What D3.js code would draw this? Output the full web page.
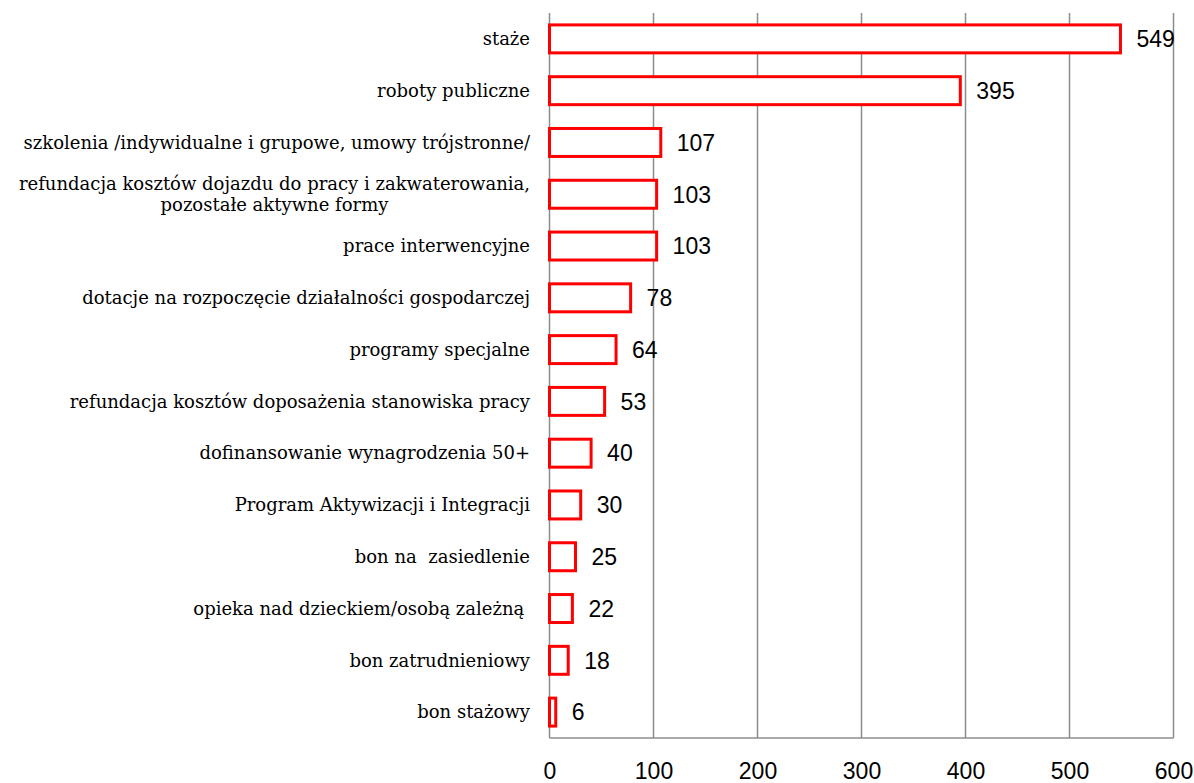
<!DOCTYPE html>
<html>
<head>
<meta charset="utf-8">
<script src="https://cdn.jsdelivr.net/npm/d3@7"></script>
<style>
  body { margin: 0; background: #fff; }
  text { white-space: pre; }
</style>
</head>
<body>
<script>
const categories = [
    ['staże'],
    ['roboty publiczne'],
    ['szkolenia /indywidualne i grupowe, umowy trójstronne/'],
    ['refundacja kosztów dojazdu do pracy i zakwaterowania,', 'pozostałe aktywne formy'],
    ['prace interwencyjne'],
    ['dotacje na rozpoczęcie działalności gospodarczej'],
    ['programy specjalne'],
    ['refundacja kosztów doposażenia stanowiska pracy'],
    ['dofinansowanie wynagrodzenia 50+'],
    ['Program Aktywizacji i Integracji'],
    ['bon na  zasiedlenie'],
    ['opieka nad dzieckiem/osobą zależną '],
    ['bon zatrudnieniowy'],
    ['bon stażowy']
];
const values = [549, 395, 107, 103, 103, 78, 64, 53, 40, 30, 25, 22, 18, 6];
const xTicks = [0, 100, 200, 300, 400, 500, 600];

const w = 1194;
const h = 783;
const pLeft = 549.5, pRight = 1173.5, pTop = 13, pBottom = 738;

const keys = categories.map((c, i) => i);
const xScale = d3.scaleLinear().domain([0, 600]).range([pLeft, pRight]);
const yScale = d3.scaleBand().domain(keys).range([pTop, pBottom])
    .paddingInner(0.46).paddingOuter(0.23);

const svg = d3.select('body')
    .append('svg')
    .attr('width', w)
    .attr('height', h);

// gridlines
svg.append('g')
    .selectAll('line')
    .data(xTicks)
    .enter()
    .append('line')
    .attr('x1', d => xScale(d))
    .attr('x2', d => xScale(d))
    .attr('y1', pTop)
    .attr('y2', pBottom)
    .attr('stroke', '#8c8c8c')
    .attr('stroke-width', 1.5);

svg.append('line')
    .attr('x1', xScale(0)).attr('x2', xScale(600))
    .attr('y1', pBottom).attr('y2', pBottom)
    .attr('stroke', '#8c8c8c')
    .attr('stroke-width', 1.5);

// bars
svg.selectAll('rect.bar')
    .data(values)
    .enter()
    .append('rect')
    .attr('class', 'bar')
    .attr('x', xScale(0))
    .attr('y', (d, i) => yScale(i))
    .attr('width', d => xScale(d) - xScale(0))
    .attr('height', yScale.bandwidth())
    .attr('fill', '#fff')
    .attr('stroke', '#ff0000')
    .attr('stroke-width', 3);

// value labels
svg.selectAll('text.val')
    .data(values)
    .enter()
    .append('text')
    .attr('class', 'val')
    .text(d => d)
    .attr('x', d => xScale(d) + 16)
    .attr('y', (d, i) => yScale(i) + yScale.bandwidth() / 2)
    .attr('dy', '0.36em')
    .attr('font-family', 'Liberation Sans, Arial, sans-serif')
    .attr('font-size', 23)
    .attr('fill', '#000');

// category labels
const labelRight = 530;
const catG = svg.append('g')
    .attr('font-family', 'DejaVu Serif, serif')
    .attr('font-size', 18)
    .attr('fill', '#000');

categories.forEach((lines, i) => {
    const cy = yScale(i) + yScale.bandwidth() / 2;
    const t = catG.append('text');
    if (lines.length === 1) {
        t.attr('x', labelRight).attr('y', cy).attr('dy', '0.35em')
            .attr('text-anchor', 'end').text(lines[0]);
    } else {
        t.attr('text-anchor', 'middle');
        const spans = lines.map((l, j) => t.append('tspan')
            .attr('y', cy + (j - (lines.length - 1) / 2) * 21)
            .attr('dy', '0.35em')
            .text(l));
        const maxW = d3.max(spans, s => s.node().getComputedTextLength());
        spans.forEach(s => s.attr('x', labelRight - maxW / 2));
    }
});

// x axis labels
const xAxis = d3.axisBottom(xScale).tickValues(xTicks).tickSize(0).tickPadding(25);
const ax = svg.append('g').attr('transform', `translate(0, ${pBottom})`).call(xAxis);
ax.select('.domain').remove();
ax.selectAll('text')
    .attr('font-family', 'Liberation Sans, Arial, sans-serif')
    .attr('font-size', 23)
    .attr('fill', '#000');
</script>
</body>
</html>
